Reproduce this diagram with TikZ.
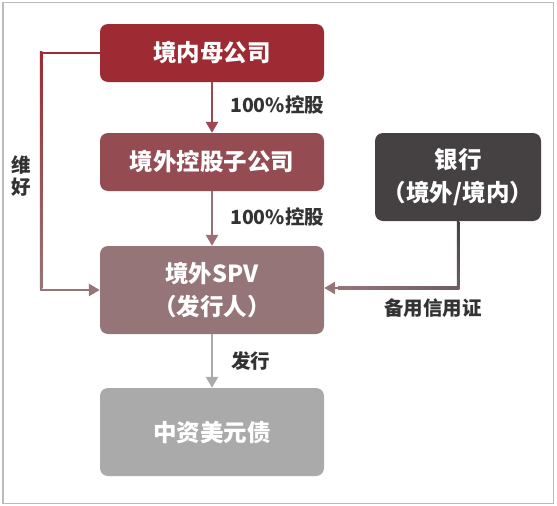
\documentclass[tikz,border=0pt]{standalone}
\usepackage{fontspec}
\setmainfont{Noto Sans CJK SC}
\usetikzlibrary{arrows.meta,calc}
\definecolor{cmom}{HTML}{9E2A33}
\definecolor{csub}{HTML}{944B52}
\definecolor{cspv}{HTML}{967578}
\definecolor{cbond}{HTML}{AAAAAA}
\definecolor{cbank}{HTML}{454143}
\definecolor{ctxt}{HTML}{333333}
\definecolor{cborder}{HTML}{BBBBBB}
\definecolor{carr1}{HTML}{A0464E}
\definecolor{carr2}{HTML}{9A7077}
\definecolor{cmidbank}{HTML}{6E5F62}
\tikzset{
  box/.style={rounded corners=8pt, minimum width=224pt, inner sep=0pt, text=white,
    font=\fontsize{23.5}{33}\selectfont\bfseries, align=center},
  conn/.style={line width=2.5pt, -{Triangle[length=11pt,width=12pt]}},
  lbl/.style={text=ctxt, font=\fontsize{19.5}{22}\selectfont\bfseries, inner sep=0pt},
}
\begin{document}
\begin{tikzpicture}[x=1pt,y=-1pt]
\useasboundingbox (0,0) rectangle (557,506);
\draw[cborder, line width=1.5pt] (3,2.5) rectangle (553.5,503.5);

\node[box, fill=cmom, minimum height=58pt] (m) at (212,53) {境内母公司};
\node[box, fill=csub, minimum height=58pt] (z) at (212,162) {境外控股子公司};
\node[box, fill=cspv, minimum height=88pt] (s) at (212,290) {境外SPV\\（发行人）};
\node[box, fill=cbond, minimum height=88pt] (d) at (212,432) {中资美元债};
\node[box, fill=cbank, minimum height=88pt, minimum width=166pt] (b) at (458,177) {银行\\（境外/境内）};

% vertical arrows
\draw[conn, carr1] (m.south) -- (z.north);
\draw[conn, carr2] (z.south) -- (s.north);
\draw[conn, cbond] (s.south) -- (d.north);

% left keepwell connector
\coordinate (lx) at (41,0);
\draw[conn, cspv] (m.west) -- (m.west -| lx) -- (s.west -| lx) -- (s.west);
\shade[top color=cmom, bottom color=cspv] ($(m.west -| lx)+(-1.25,-1.25)$) rectangle ($(s.west -| lx)+(1.25,-1.25)$);
\draw[cmom, line width=2.5pt] ($(m.west -| lx)+(-1.25,0)$) -- (m.west);

% bank connector
\coordinate (by) at (0,288);
\draw[conn, cspv] (b.south) -- (b.south |- by) -- (s.east |- by);
\shade[top color=cbank, bottom color=cmidbank] ($(b.south)+(-1.25,0)$) rectangle ($(b.south |- by)+(1.25,1.25)$);
\shade[left color=cspv, right color=cmidbank] ($(s.east |- by)+(14,-1.25)$) rectangle ($(b.south |- by)+(-1.25,1.25)$);

% labels
\node[lbl, anchor=west] (l1) at (230,105) {100\%控股};
\node[lbl, anchor=west] (l2) at (230,217) {100\%控股};
\node[lbl, anchor=west] (l3) at (231,361) {发行};
\node[lbl] (l4) at (433,308) {备用信用证};
\node[lbl, align=center, font=\fontsize{19.5}{22}\selectfont\bfseries] (l5) at (21,176) {维\\好};
\end{tikzpicture}
\end{document}
